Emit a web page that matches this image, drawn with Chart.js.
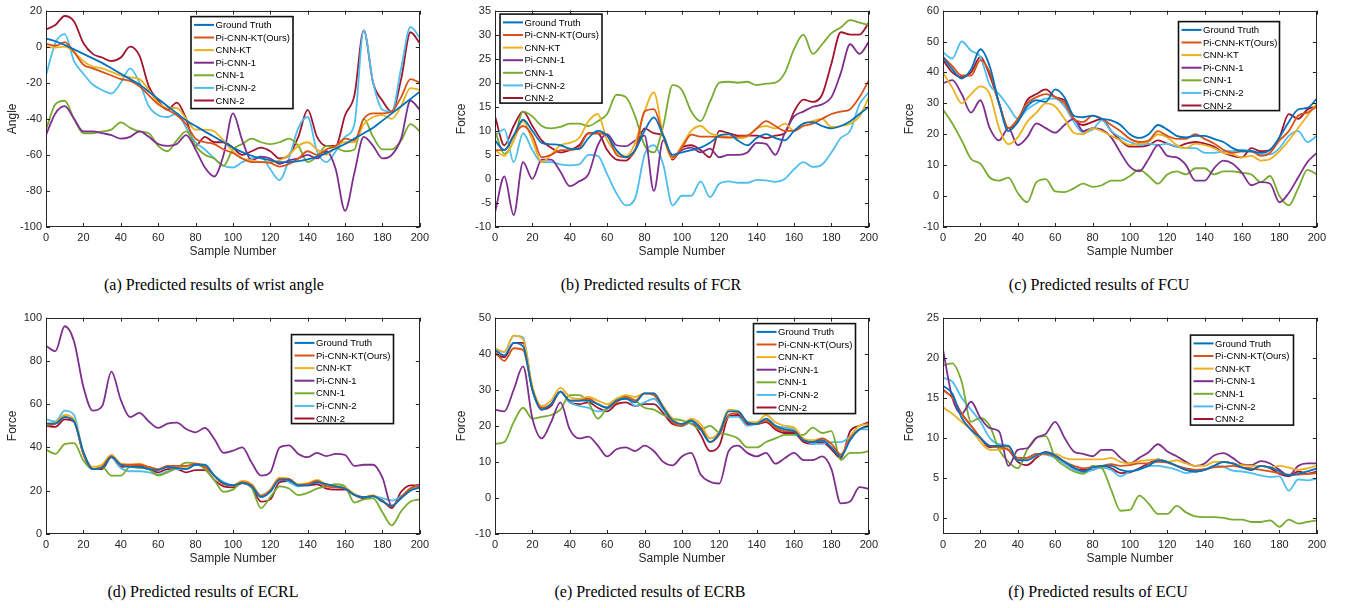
<!DOCTYPE html>
<html><head><meta charset="utf-8">
<script src="https://cdn.jsdelivr.net/npm/chart.js@4.4.0/dist/chart.umd.min.js"></script>
<style>
body{margin:0;background:#fff;width:1348px;height:608px;overflow:hidden;position:relative;}
canvas{position:absolute;}
.cap{position:absolute;font-family:"Liberation Serif","Times New Roman",serif;font-size:16px;line-height:18px;color:#000;white-space:nowrap;transform:translateX(-50%);}
</style></head><body>
<canvas id="ca" width="433" height="267" style="left:0px;top:0px"></canvas>
<canvas id="cb" width="433" height="267" style="left:449px;top:0px"></canvas>
<canvas id="cc" width="433" height="267" style="left:897px;top:0px"></canvas>
<canvas id="cd" width="433" height="267" style="left:0px;top:307px"></canvas>
<canvas id="ce" width="433" height="267" style="left:449px;top:307px"></canvas>
<canvas id="cf" width="433" height="267" style="left:897px;top:307px"></canvas>
<div class="cap" style="left:214px;top:276px">(a) Predicted results of wrist angle</div>
<div class="cap" style="left:651px;top:276px">(b) Predicted results of FCR</div>
<div class="cap" style="left:1099px;top:276px">(c) Predicted results of FCU</div>
<div class="cap" style="left:203px;top:583px">(d) Predicted results of ECRL</div>
<div class="cap" style="left:650px;top:583px">(e) Predicted results of ECRB</div>
<div class="cap" style="left:1098px;top:583px">(f) Predicted results of ECU</div>
<script>
// ---------- data ----------
const samples = [0,5,10,15,20,25,30,35,40,45,50,55,60,65,70,75,80,85,90,95,100,105,110,115,120,125,130,135,140,145,150,155,160,165,170,175,180,185,190,195,200];
const xTicks = [0,20,40,60,80,100,120,140,160,180,200];
const seriesNames = ['Ground Truth','Pi-CNN-KT(Ours)','CNN-KT','Pi-CNN-1','CNN-1','Pi-CNN-2','CNN-2'];
const seriesColors = ['#0072BD','#D95319','#EDB120','#7E2F8E','#77AC30','#4DBEEE','#A2142F'];

// (a) wrist angle
const yTicksA = [-100,-80,-60,-40,-20,0,20];
const gtA   = [4.5,3,1,-1.5,-4,-6.5,-9,-12,-15,-18,-21,-25,-29,-33,-37,-41,-44,-47,-50,-53,-56,-58.5,-60.5,-62,-63,-64,-64,-63.5,-62.5,-61,-59,-56.5,-54,-51,-48,-45,-41,-37,-33,-29,-25];
const piktA = [1.5,0.5,2.5,-3,-10,-12,-14,-16,-18,-19,-22,-27,-32,-35,-38,-43,-51,-53,-54,-57,-59,-62,-64,-64,-64.5,-66.5,-65,-62,-58,-60,-57,-55,-51,-52,-40,-37,-37,-36,-28,-18,-20];
const ktA   = [0,-0.5,0,-3,-8,-11,-12,-14,-16,-17,-18,-24,-31,-34,-34,-40,-46,-46,-47,-52,-58,-62,-63,-64,-64,-63,-60,-55,-53,-57,-60,-55,-53,-53,-43,-39,-38,-40,-33,-23,-24];
const pi1A  = [-49,-37,-33,-40,-47,-47,-48,-49,-51,-50,-47,-50,-54,-55,-54,-49,-57,-67,-72,-60,-37,-52,-63,-61,-62,-65,-63,-62,-60,-62,-58,-68,-91,-70,-50,-55,-62,-60,-51,-30,-35];
const c1A   = [-46,-32,-30,-40,-48,-48,-47,-46,-42,-45,-47,-48,-55,-58,-52,-47,-55,-60,-62,-66,-57,-54,-51,-53,-54,-53,-51,-55,-64,-61,-55,-56,-58,-57,-40,-50,-57,-57,-52,-43,-47];
const pi2A  = [-16,2,7,-8,-15,-21,-24,-26,-20,-12,-20,-33,-38,-39,-37,-45,-53,-57,-62,-66,-67,-64,-62,-61,-68,-74,-62,-45,-39,-58,-64,-58,-50,-43,9,-20,-35,-36,-12,11,5];
const c2A   = [9.5,12,17,14,2,-4,-6,-8,-6,0,-5,-22,-30,-35,-31,-40,-55,-50,-53,-53,-56,-60,-58,-56,-58,-62,-60,-50,-35,-50,-55,-55,-38,-27,9,-20,-30,-36,-18,8,2];

// (b) FCR
const yTicksB = [-10,-5,0,5,10,15,20,25,30,35];
const gtB   = [8,6,9,12.3,10,7.5,7.2,7,6.3,6.2,8.5,10,9,6,4.5,6,10,12.8,9,5,5.5,6,6.5,7.5,9,9.3,8,7,8.5,9.3,8.5,8,10,11.5,11.8,11,10.5,11,12,13.5,15];
const piktB = [6,6,9,11,9,4.5,5,6,6,6.5,9.5,9.5,9,5,4.5,6,14,14.5,9,4.5,6.5,9.2,8.8,8.8,8.7,8.6,8.8,9,10.5,12,11,10,10,11,11.5,12.5,13.5,14,14.5,17,20.5];
const ktB   = [6,4.8,8,12,8,3.5,5,7,7.5,8.5,12,13.5,8,5.5,4.7,7.5,14,18,9,4.3,7,10,11,9.5,9,8.8,8.5,8.8,10.5,11,10.5,11.5,10,11.5,12,12.5,10.8,11,11.5,13,17];
const pi1B  = [-7,0.5,-7.5,3.5,0,4,4,1.5,-1.5,-0.5,1,7,9.3,7,6.8,8,9,-2.5,8,4.5,6,6.5,5.5,6.3,4.5,5,5,5.5,7.5,7.3,5,9.5,13,14,15,15.5,17,22,28,26,28.5];
const c1B   = [10,5.2,8,14,13,11,10.5,10.8,11.5,11.5,11,12,13.5,17.5,17,13,7,5.5,11,19.5,18.5,14,12,16,20,20.2,20,20.2,19.5,19.8,20,22,27,30,26,28,30.3,31.5,33,32.5,32];
const pi2B  = [9,10.3,3.5,9.5,6,3.5,3.5,3,2.8,3,5,4.8,1,-3,-5.5,-4,5,7,3,-5.5,-3.5,-3.5,-0.5,-3.8,-1,-0.5,-0.8,-0.8,-0.2,-0.3,-0.6,0,2,3.5,2.5,3,5.5,8.5,10,15.5,18];
const c2B   = [13,7,11,14,11,8,6.5,5.5,6,7,9.5,9.5,6,4,3.8,6,10.5,9.5,9,4,6.5,7,6,4.5,10,9.5,9,9,9,8.5,9,9.5,14,16.5,16,17.5,24,30.5,30,30,32.5];

// (c) FCU
const yTicksC = [-10,0,10,20,30,40,50,60];
const gtC   = [45,41,38,41,47.5,42,30,21,24,29,31,30.5,34.5,32,26,25.5,26,25,24.5,23,20,18.8,20,23,21.5,19.5,19,19.5,19.5,18.5,17.5,15.5,14.5,14.5,14,15,19,24,28,28.5,31.5];
const piktC = [45,42,39,39,44,40,30,22,25,30,32,33,32,30,25,24,26,25,23,21,18.5,17.5,18,21,19.5,18.5,18.5,20,18.5,17,15,14,14.5,14.5,13,14,18,21,26,27,29];
const ktC   = [40,35,30,33,35.5,33,22,16.8,19,24,27,30,29,25,20.5,20,22,21,19.5,18,16.5,17,17.5,20,19,16.5,15.5,17,16.5,15.5,14,13.5,12.5,13,11.5,12,14.5,18,22,26,30];
const pi1C  = [36.5,37.5,33,27,31,22,18,22,16.5,19,23.5,22,20.5,23,25,21,22,21.5,19,14,9.5,8,12,16.5,13,12.5,10,5,5,9,11.5,10.5,7.5,3.5,4.5,4,-2,1,6,11,14];
const c1C   = [28,23.5,18,12,10.5,6,5,6,1,-2,4.5,5.5,1.5,1.3,2.5,4,3,3.5,5,5,6.5,8.5,6.5,4,7,8,7,9,9,7,8,8,7.5,7,4.5,6.5,0,-3,2.5,8.5,7];
const pi2C  = [46.5,44.5,50,47,45,36,33,29,25,28,30,31.5,31.5,29,24,20.5,21.5,24.5,21,19,17.5,16.5,17,16.5,17,16,15.5,15.5,14,14,14.5,14.5,15,14.5,13.5,13.5,15.5,19.5,21,17.5,19.5];
const c2C   = [44,40,38.5,40,45,39,30,22,24,31,33,34.5,32,31,25,23,24,25,21,18,16,16,16.5,18,17,16,17,17.5,17,16,14,13,12.5,15.5,14.5,15,19,26.5,25,28,29];

// (d) ECRL
const yTicksD = [0,20,40,60,80,100];
const gtD   = [51,51,54,52,38,30,30.5,35.5,32,31,31,30,29.5,31,30.5,30,32,32,27,23.5,22.5,23.5,22,17,19.5,25,25,22.5,22.5,24,23,22,21,18,17,17.5,15,13,16.5,20,21.5];
const piktD = [50,51,54,52,37,30,31,36,32,32,32,31,30,31.5,31.5,31.5,32.5,31,27,23,22.5,24,22.5,17.5,20,25.5,25.5,22.5,23,24.5,22,21.5,21,18,17,17.5,15,13,17,21,22.5];
const ktD   = [51,51.5,55,53,38,31,32,36.5,32.5,32,32.5,31,30,31,31,31,32.5,31.5,27,23,22.5,24.5,23,17.5,20.5,26,25.5,23,23.5,25,23,22,21.5,18.5,17,18,15,13,17,21,22.5];
const pi1D  = [87,84.5,96,89,68,57,59,75,62,54,56,52,49,51,51.5,48.5,47,49,44,37.5,38.5,40,33,27,28.5,40,41,37,35.5,37.5,36,37,36.5,31.5,32,32,26,13,17,21,23];
const c1D   = [39,37,41.5,42,34,30,31,27,27,31,30.5,30,27,28.5,30.5,33,32.5,30,25,19.5,20.5,24,21.5,12,17,22,21,18,19,21,22,23,22,14.5,16,16.5,10,4,10.5,15,16];
const pi2D  = [53,52,57,55,37,30,31,35.5,30.5,29,29,28.5,27.5,29,30,30,32,31,27,24,22.5,24,23,18,20.5,26,24,22,23,24,23,22,21,18.5,17,17.5,16.5,15.5,17.5,20.5,21.5];
const c2D   = [50,49.5,53,52,37,30,30,35.5,31,31.5,31.5,30,28.5,30,30,28.5,29.5,29.5,25,22,21.5,23.5,21.5,15,16,24,24.5,22.5,22.5,23,21,20.5,20.5,18,16.5,17.5,15.5,12,19.5,22.5,22.5];

// (e) ECRB
const yTicksE = [-10,0,10,20,30,40,50];
const gtE   = [41,39.5,43,42,30,24.5,26,29.5,27,27,27,26,25,27,27.5,26.5,29,29,25,21.5,20.5,21.5,19,15.5,18,24,24,21,20.5,22,20,19,18.5,16,15.5,16,14,11.5,16,19,20];
const piktE = [40.5,38,41.5,41,30,25,26,29.5,27,27,27.5,26,25,26.5,28,27,29,28.5,25,21,20,21.5,19.5,15.5,17.5,23,23.5,21,20.5,21.5,19.5,18.5,18.5,16,15.5,16.5,15,12,16.5,19,20];
const ktE   = [41.5,40.5,45,44,31,25.5,27,30.5,28,27.5,28,27,26,27.5,28.5,28,29,29,25.5,22,20.5,22,20.5,16.5,18.5,24.5,24,21,21,23,21,20,19.5,16.5,16,16.5,15,12,17,20,20.5];
const pi1E  = [24.5,24,30,36.5,22,16.5,21,26.5,19,16.5,17,14.5,11.5,13.5,14,13,14.5,13,10,9,11.5,12.5,6.5,4.5,4,13,14.5,12.5,11.5,12.5,9.5,11,12.5,10.5,10.5,11.5,8,-1.5,-1,3,2.5];
const c1E   = [15,15.5,21,25,22,22.5,23,24.5,28.5,28.5,26.5,22,25,27.5,28,27,25,24.5,23,22,21.5,20.5,19,20,18,17.5,16.5,14,14,15.5,16.5,17.5,17.5,17.5,19.5,18,18.5,10.5,12.5,12.5,13];
const pi2E  = [41,40.5,45,44.5,30,25,26,29.5,26.5,25.5,25,24,24.5,27,28,25.5,26.5,27.5,24.5,21.5,20,21,19.5,16.5,18,22.5,22.5,20,20.5,21.5,20,19.5,19,16.5,15,15,15.5,15.5,17,19,19];
const c2E   = [40,39,43,43,30,24.5,25.5,29.5,26.5,26,26.5,25,24,26,26.5,25.5,26,26,23.5,20.5,20,21,17.5,13,14.5,22.5,23,20.5,20.5,21,19,18,18,15.5,15,15.5,13.5,11,18.5,20,21];

// (f) ECU
const yTicksF = [0,5,10,15,20,25];
const gtF   = [16.5,15.5,12.5,11,10,9,9,9,7.2,7.2,7.8,8.2,7.8,7,6.3,5.8,6.3,6.5,6.5,6,5.8,6.1,6.5,7.2,7,6.5,6,5.8,6,6.5,7,6.8,6.3,6,6.5,6.3,5.8,5.3,5.5,5.8,6.2];
const piktF = [16,15,13,11.5,10,9,8.8,8.5,7.5,7.5,8,8,7.7,7,6.5,6.2,6.3,6.5,6.7,6.5,6.6,6.8,6.8,7,6.9,6.5,6.2,6,6.1,6.3,6.4,6.5,6.3,6.2,6,5.8,5.6,5.4,5.4,5.5,5.6];
const ktF   = [13.8,13,12,11,9.5,8.5,8.5,8.8,7.5,7.5,7.8,8,8,7.5,7.3,7.3,7.3,7.3,7.5,7,6.8,7.1,7.2,7.3,7,7.2,6.8,6.5,6.5,7,7,6.8,6.6,6.5,6.5,6.3,6.5,6.3,6,6.2,6.5];
const pi1F  = [21,15,13,14.5,12.5,11.2,10.8,6.5,8.5,8.7,10,10.5,12,10,8.3,8,7.7,8.5,8.5,7.5,6.8,7.5,8.2,9.2,8.3,7.7,7,6.5,6.8,7.8,8.1,7.5,6.7,6.6,7.1,6.8,6,5.3,6.5,6.8,6.8];
const c1F   = [19,19.3,17,12,12.5,11.5,8.5,7,6.2,8.5,10,10.2,7.5,6.5,5.8,5.5,6.5,6.2,3.5,0.9,1,2.8,1.8,0.5,0.5,1.5,0.7,0.2,0.1,0.1,0,-0.2,-0.2,-0.5,-0.5,-0.3,-1.1,-0.2,-0.7,-0.5,-0.3];
const pi2F  = [17.5,17,15,13.5,12,10,9.2,9,7.2,7.5,8,7.9,7.5,6.8,6,5.6,6,6.3,6,5.2,5.8,6,6.5,6.5,6.3,6,5.6,5.8,6,6.5,6.4,5.9,5.8,5.6,5.3,5.1,5.2,3.4,4.8,4.7,4.9];
const c2F   = [16,15,13,11.5,10,8.8,9,8.5,7,6.6,7.5,8.2,7.8,7,6.2,6,6,6.5,6.2,5.6,5.7,6.2,6.8,7.3,7,6.5,6,5.8,6,6.5,7,6.8,6.3,6,6.5,6.2,5.5,5.2,5.8,5.5,5.8];

// ---------- panels ----------
const panels = [
  {id:'ca', yTitle:'Angle', yMin:-100, yMax:20, yTicks:yTicksA, series:[gtA,piktA,ktA,pi1A,c1A,pi2A,c2A], legend:[145,6,102,92]},
  {id:'cb', yTitle:'Force', yMin:-10, yMax:35, yTicks:yTicksB, series:[gtB,piktB,ktB,pi1B,c1B,pi2B,c2B], legend:[5,3.5,102,89]},
  {id:'cc', yTitle:'Force', yMin:-10, yMax:60, yTicks:yTicksC, series:[gtC,piktC,ktC,pi1C,c1C,pi2C,c2C], legend:[235.5,11,101,89]},
  {id:'cd', yTitle:'Force', yMin:0, yMax:100, yTicks:yTicksD, series:[gtD,piktD,ktD,pi1D,c1D,pi2D,c2D], legend:[245.5,17,102,89]},
  {id:'ce', yTitle:'Force', yMin:-10, yMax:50, yTicks:yTicksE, series:[gtE,piktE,ktE,pi1E,c1E,pi2E,c2E], legend:[258.5,6,102,90]},
  {id:'cf', yTitle:'Force', yMin:-2, yMax:25, yTicks:yTicksF, series:[gtF,piktF,ktF,pi1F,c1F,pi2F,c2F], legend:[247.5,17.5,103,90]}
];

const AX = '#262626';
const FONT = "'Liberation Sans', Arial, Helvetica, sans-serif";

const framePlugin = {
  id:'frame',
  afterDatasetsDraw(chart){
    const {ctx, chartArea:a, scales:{x, y}} = chart;
    const lg = chart.options.plugins.frame.legend;
    ctx.save();
    ctx.strokeStyle = AX; ctx.lineWidth = 1;
    ctx.beginPath();
    x.ticks.forEach(t => {
      const px = Math.round(x.getPixelForValue(t.value)) + 0.5;
      ctx.moveTo(px, a.bottom); ctx.lineTo(px, a.bottom - 4);
      ctx.moveTo(px, a.top); ctx.lineTo(px, a.top + 4);
    });
    y.ticks.forEach(t => {
      const py = Math.round(y.getPixelForValue(t.value)) + 0.5;
      ctx.moveTo(a.left, py); ctx.lineTo(a.left + 4, py);
      ctx.moveTo(a.right, py); ctx.lineTo(a.right - 4, py);
    });
    ctx.stroke();
    ctx.strokeRect(Math.round(a.left) + 0.5, Math.round(a.top) + 0.5, Math.round(a.width) - 1, Math.round(a.height) - 1);
    // legend
    const lx = a.left + lg[0], ly = a.top + lg[1], lw = lg[2], lh = lg[3];
    ctx.fillStyle = '#fff';
    ctx.fillRect(lx, ly, lw, lh);
    ctx.lineWidth = 1.6; ctx.strokeStyle = '#111';
    ctx.strokeRect(lx, ly, lw, lh);
    ctx.font = '9.5px ' + FONT;
    ctx.textBaseline = 'middle'; ctx.textAlign = 'left';
    chart.data.datasets.forEach((ds, i) => {
      const ry = ly + 8.3 + i * 12.6;
      ctx.strokeStyle = ds.borderColor; ctx.lineWidth = 2;
      ctx.beginPath(); ctx.moveTo(lx + 3, ry); ctx.lineTo(lx + 23, ry); ctx.stroke();
      ctx.fillStyle = '#000';
      ctx.fillText(ds.label, lx + 24.5, ry + 0.5);
    });
    ctx.restore();
  }
};

panels.forEach(p => {
  const datasets = p.series.map((vals, i) => ({
    label: seriesNames[i],
    data: samples.map((s, k) => ({x: s, y: vals[k]})),
    borderColor: seriesColors[i],
    backgroundColor: seriesColors[i],
    borderWidth: 1.8,
    pointRadius: 0,
    cubicInterpolationMode: 'monotone',
    fill: false
  }));
  new Chart(document.getElementById(p.id), {
    type: 'line',
    data: {datasets},
    plugins: [framePlugin],
    options: {
      responsive: false,
      animation: false,
      events: [],
      layout: {padding: {left: 0, right: 12, top: 9, bottom: 0}},
      plugins: {legend: {display: false}, tooltip: {enabled: false}, frame: {legend: p.legend}},
      scales: {
        x: {
          type: 'linear', min: 0, max: 200,
          afterBuildTicks: sc => { sc.ticks = xTicks.map(v => ({value: v})); },
          afterFit: sc => { sc.height = 40; },
          grid: {display: false, drawTicks: false},
          border: {display: false},
          ticks: {color: AX, font: {family: FONT, size: 11}, padding: 4, maxRotation: 0, autoSkip: false},
          title: {display: true, text: 'Sample Number', color: AX, font: {family: FONT, size: 12}, padding: {top: 0, bottom: 8}}
        },
        y: {
          type: 'linear', min: p.yMin, max: p.yMax,
          afterBuildTicks: sc => { sc.ticks = p.yTicks.map(v => ({value: v})); },
          afterFit: sc => { sc.width = 46; },
          grid: {display: false, drawTicks: false},
          border: {display: false},
          ticks: {color: AX, font: {family: FONT, size: 11}, padding: 4, autoSkip: false},
          title: {display: true, text: p.yTitle, color: AX, font: {family: FONT, size: 12}, padding: {top: 5, bottom: 0}}
        }
      }
    }
  });
});
</script>
</body></html>
